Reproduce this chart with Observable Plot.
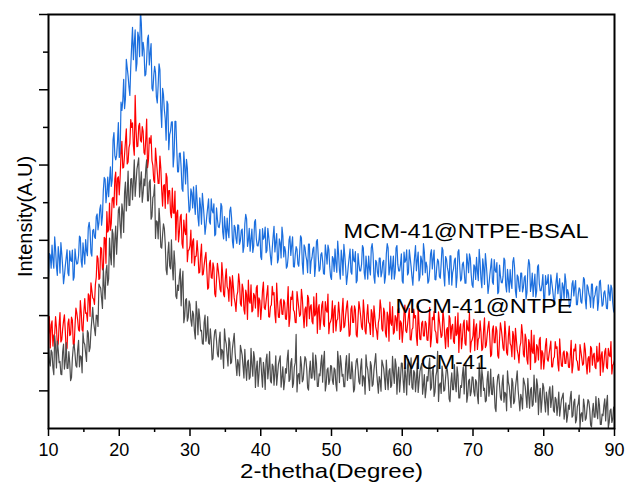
<!DOCTYPE html>
<html>
<head>
<meta charset="utf-8">
<script src="https://cdn.jsdelivr.net/npm/d3@7"></script>
<script src="https://cdn.jsdelivr.net/npm/@observablehq/plot@0.6"></script>
<style>
  html, body { margin: 0; padding: 0; background: #fff; }
  #chart svg { display: block; }
</style>
</head>
<body>
<div id="chart"></div>
<script>
// Sampling: "on-grid" values at 10, 10.25, ... 90 and "mid" values at 10.125, 10.375, ... 89.875 (degrees 2θ)
const gridStart = 10, gridStep = 0.25;

// Intensities (a.u. ×100)
const mcm41 = [
218,166,202,143, 218,232,175,144,
203,158,228,160, 175,135,216,198,
163,234,193,148, 229,200,260,204,
258,322,265,301, 271,378,346,425,
344,434,398,460, 529,429,538,515,
589,506,577,626, 578,684,593,664,
657,617,689,719, 651,601,663,690,
605,654,556,613, 648,552,504,548,
479,544,491,409, 495,424,431,472,
352,381,403,326, 418,298,345,295,
330,272,303,238, 307,318,259,226,
282,232,297,224, 234,186,259,233,
190,256,210,160, 236,194,241,172,
213,253,171,183, 140,208,165,210,
128,182,136,168, 204,109,179,145,
187,110,154,182, 132,204,121,165,
148,115,171,193, 136,103,159,186,
125,175,109,164, 250,141,119,169,
130,191,158,102, 179,134,151,195,
112,145,173,123, 205,117,161,128,
166,117,156,100, 178,194,139,111,
172,128,199,132, 148,104,180,158,
118,185,140,91, 167,128,178,112,
155,199,122,138, 99,171,132,182,
103,159,114,148, 185,91,163,130,
173,96,139,167, 116,188,104,148,
130,96,152,173, 116,82,138,164,
102,152,85,140, 205,116,93,142,
102,162,128,71, 148,103,120,164,
81,114,142,92, 175,87,131,98,
136,86,123,66, 142,157,101,71,
131,86,158,90, 106,45,138,115,
75,142,96,47, 123,83,133,66,
109,153,75,91, 52,123,84,133,
54,109,63,96, 132,37,107,73,
109,44,78,99, 56,113,43,77,
61,33,77,94, 46,17,62,82,
30,70,15,58, 89,38,19,60,
27,77,50,4, 67,30,44,80,
11,38,61,20, 88,16,52,25,
57
];
const mcm41Mid = [
178,208,161,247, 161,209,178,143,
224,179,160,204, 127,187,224,167,
210,164,190,255, 223,178,254,214,
290,283,247,300, 384,373,319,378,
417,381,506,435, 517,501,463,580,
540,597,521,655, 620,593,663,608,
714,653,704,615, 682,625,645,714,
605,661,564,620, 505,549,585,482,
515,531,422,466, 432,501,395,436,
345,367,424,389, 281,342,285,339,
288,312,259,338, 249,294,261,224,
301,250,227,265, 182,234,263,198,
235,184,205,265, 224,166,229,176,
233,201,141,169, 221,195,134,163,
177,131,213,139, 187,158,112,188,
143,176,104,198, 160,126,171,115,
193,143,182,110, 164,125,147,208,
131,186,120,175, 97,146,191,124,
163,185,108,152, 134,201,129,173,
112,140,195,179, 100,156,117,167,
128,161,117,205, 122,172,144,111,
194,150,133,177, 97,153,186,125,
163,113,135,196, 156,101,167,117,
177,150,94,127, 182,160,104,137,
153,109,192,120, 169,141,97,174,
128,161,89,183, 143,109,154,98,
174,124,163,91, 143,104,126,187,
108,163,97,152, 72,121,166,99,
134,156,79,123, 103,170,98,142,
81,109,164,148, 70,126,87,137,
97,130,86,174, 85,135,107,74,
152,108,91,136, 55,111,144,83,
120,70,92,153, 111,56,122,72,
130,103,47,80, 134,112,56,89,
103,59,142,70, 115,87,43,120,
72,97,36,111, 78,48,83,35,
97,55,85,25, 68,34,51,99,
34,78,23,67, 3,42,78,22,
54,72,9,45, 30,85,26,62,
11,34,79,66, 2,48,16,57
];

const mcm41Ntpe = [
252,214,286,247, 297,219,275,230,
264,302,208,280, 247,296,224,274,
307,262,340,262, 311,306,285,353,
387,347,330,402, 451,399,478,420,
505,576,528,527, 610,587,681,665,
621,729,692,728, 796,708,757,800,
751,885,749,803, 766,802,733,769,
693,772,778,699, 653,714,651,724,
634,645,585,667, 632,573,639,572,
501,580,522,569, 479,525,570,473,
486,440,504,457, 499,413,461,408,
434,468,370,438, 401,440,358,398,
421,370,441,356, 399,377,338,389,
406,347,311,364, 388,325,372,304,
356,394,333,310, 359,320,380,347,
290,367,321,337, 380,296,328,355,
304,386,296,339, 304,342,291,328,
271,349,365,310, 281,342,298,370,
302,317,272,347, 324,284,350,304,
253,329,289,338, 271,314,357,279,
294,255,327,287, 336,258,313,268,
301,339,245,317, 282,326,249,293,
320,270,342,259, 301,283,250,305,
326,270,237,293, 320,259,309,243,
298,336,274,251, 300,260,320,286,
229,306,260,276, 319,235,267,294,
243,325,237,280, 246,285,235,274,
217,295,311,256, 227,287,242,314,
246,262,217,293, 271,231,297,252,
202,278,238,288, 221,264,308,230,
246,207,278,237, 286,207,262,215,
248,285,191,262, 228,271,194,237,
264,214,285,202, 245,226,191,246,
266,208,174,228, 253,190,239,171,
224,261,199,175, 223,182,242,207,
158,221,184,197, 232,164,190,213,
171,238,166,201, 173,204,163,194,
148,211,224,178, 155,205,168,227,
172,186,150,213, 195,163,218,181,
141,204,172,213, 159,195,231,168,
181
];
const mcm41NtpeMid = [
297,275,219,252, 269,225,308,236,
286,258,214,291, 250,288,221,320,
288,259,309,258, 345,307,358,298,
367,344,382,459, 396,481,423,508,
439,522,599,545, 614,663,594,669,
668,763,694,762, 703,746,821,812,
726,794,750,811, 761,790,728,822,
712,758,712,660, 745,682,651,692,
591,648,678,597, 632,560,573,631,
573,496,562,491, 554,515,443,475,
527,497,433,458, 467,415,490,410,
454,422,374,447, 399,427,350,439,
398,363,407,350, 424,369,403,326,
377,334,353,411, 332,384,316,368,
290,338,382,314, 353,374,297,340,
323,389,316,359, 297,324,378,361,
281,336,295,344, 303,335,290,377,
293,343,315,282, 364,320,303,348,
268,323,354,292, 329,278,299,359,
319,263,328,277, 337,309,252,284,
339,316,259,291, 308,263,346,273,
323,294,250,326, 282,315,243,337,
298,263,308,251, 329,278,316,244,
298,259,281,342, 265,320,254,309,
232,280,324,256, 294,315,237,280,
262,328,255,298, 236,263,317,300,
221,276,236,285, 246,279,234,322,
239,289,261,228, 310,265,247,291,
213,268,300,238, 277,226,247,307,
268,212,277,226, 287,259,203,235,
290,267,210,242, 257,212,294,221,
270,241,196,273, 228,260,187,281,
242,207,252,195, 272,220,258,184,
237,197,217,276, 197,251,183,236,
157,204,248,179, 216,236,158,200,
185,239,179,215, 164,186,231,217,
153,198,165,206, 173,199,162,234,
166,206,182,155, 223,187,172,209,
145,191,218,168, 200,159,177,227,
195,150,204,163, 213,191,145,172
];

const mcm41NtpeBsal = [
404,460,487,426, 476,407,459,494,
430,406,454,413, 472,444,394,477,
437,459,508,429, 467,502,459,548,
467,526,509,563, 528,582,540,633,
663,626,616,695, 659,786,714,761,
720,867,871,850, 981,937,885,1016,
980,1059,970,1040, 1111,990,1006,941,
1036,966,1023,897, 962,882,913,953,
800,887,823,870, 741,790,815,727,
816,682,731,693, 630,697,715,622,
582,626,642,569, 607,538,589,625,
560,538,588,549, 610,573,512,586,
536,550,590,504, 533,559,507,588,
498,540,505,541, 489,526,468,543,
557,500,471,530, 484,555,486,502,
456,531,508,467, 532,485,435,510,
469,518,450,493, 535,456,471,431,
501,460,509,429, 483,437,469,506,
410,481,447,490, 412,455,482,431,
502,418,462,444, 410,465,487,430,
396,451,477,415, 464,397,451,489,
427,405,455,416, 476,443,387,465,
419,436,480,397, 430,458,408,491,
403,447,414,453, 403,442,386,464,
480,425,397,458, 414,486,419,436,
392,469,447,408, 475,430,381,458,
419,469,403,447, 491,414,430,392,
464,424,474,395, 450,404,437,474,
379,450,416,459, 381,425,453,403,
475,392,436,419, 386,442,464,408,
375,430,455,393, 442,374,428,465,
403,380,429,389, 449,415,358,434,
388,404,447,363, 395,422,372,454,
365,408,375,413, 363,401,344,422,
437,380,351,410, 365,435,366,382,
344,406,387,354, 408,370,329,391,
358,398,342,377, 411,347,359,326,
384,352,393,329, 374,337,365,396,
318,376,349,384, 320,355,378,336,
394,325,361,346, 318,363,381,334,
307
];
const mcm41NtpeBsalMid = [
465,426,448,509, 430,483,413,465,
385,432,475,406, 447,474,402,451,
439,511,444,493, 437,472,534,525,
458,529,505,570, 546,594,564,667,
600,668,658,643, 767,726,725,813,
730,845,928,876, 959,907,959,1066,
1023,950,1053,988, 1075,1026,937,977,
1045,998,904,937, 946,865,969,848,
904,847,766,862, 781,814,695,816,
745,682,732,637, 735,650,692,575,
637,586,597,646, 561,613,543,595,
516,565,610,543, 580,597,516,556,
534,598,522,563, 499,525,578,560,
480,534,492,540, 499,530,483,569,
484,532,503,468, 549,504,485,529,
449,503,535,472, 509,457,478,537,
496,440,504,453, 512,483,426,457,
511,487,430,461, 476,431,512,439,
488,459,414,490, 445,477,404,497,
458,423,467,411, 488,437,475,403,
457,417,438,498, 420,474,407,461,
383,432,477,410, 448,470,393,437,
419,486,414,458, 397,425,480,464,
386,442,403,453, 414,447,403,491,
408,458,430,397, 480,436,419,464,
386,442,475,414, 453,403,425,486,
447,392,458,408, 469,442,386,419,
475,452,396,428, 444,399,481,408,
457,428,383,459, 414,447,375,469,
431,397,442,386, 464,414,453,381,
435,396,417,476, 397,451,383,437,
359,407,451,383, 420,441,363,406,
387,453,380,423, 362,389,443,427,
348,403,364,413, 374,406,361,449,
364,413,383,349, 430,384,366,409,
338,383,409,358, 389,347,364,413,
380,334,387,344, 392,369,322,348,
393,375,329,356, 369,333,401,342,
382,358,322,384, 347,373,314,390,
358,329,366,319, 382,340,372,312
];

const xMajorTicks = [10, 20, 30, 40, 50, 60, 70, 80, 90];
const xMinorTicks = [15, 25, 35, 45, 55, 65, 75, 85];
const yMajorTicks = [100, 300, 500, 700, 900, 1100];
const yMinorTicks = [200, 400, 600, 800, 1000];

const seriesNames = ["MCM-41@NTPE-BSAL", "MCM-41@NTPE", "MCM-41"];
const seriesColors = ["#1c6fde", "#ff0000", "#4d4d4d"];
// label anchors in data units (2θ, intensity)
const labelX = [51.7, 59.05, 60.0];
const labelY = [525, 326, 177];
const labelWidths = [245, 177, 85];

const xTitle = "2-thetha(Degree)";
const yTitle = "Intensity(A.U)";

// merge on-grid and mid-grid samples into one ordered profile
function profile(onGrid, mid) {
  const out = [];
  onGrid.forEach((v, i) => {
    out.push({t: gridStart + i * gridStep, v});
    if (i < mid.length) out.push({t: gridStart + (i + 0.5) * gridStep, v: mid[i]});
  });
  return out;
}
const profiles = [
  profile(mcm41NtpeBsal, mcm41NtpeBsalMid),
  profile(mcm41Ntpe, mcm41NtpeMid),
  profile(mcm41, mcm41Mid)
];

const labels = seriesNames.map((name, i) => ({name, x: labelX[i], y: labelY[i]}));

const chart = Plot.plot({
  width: 627,
  height: 482,
  marginLeft: 48,
  marginRight: 13,
  marginTop: 14,
  marginBottom: 54,
  x: {domain: [10, 90]},
  y: {domain: [0, 1100]},
  style: {fontFamily: "Arial, 'Liberation Sans', sans-serif", color: "black", background: "white"},
  marks: [
    ...profiles.map((p, i) => Plot.line(p, {x: "t", y: "v", stroke: seriesColors[i], strokeWidth: 1.2, clip: true})),
    Plot.frame({stroke: "black", strokeWidth: 2}),
    Plot.axisX({ticks: xMajorTicks, tickSize: 8, tickPadding: 7, fontSize: 18, strokeWidth: 1.5, label: null}),
    Plot.axisX({ticks: xMinorTicks, tickSize: 4, strokeWidth: 1.5, text: null, label: null}),
    Plot.axisY({ticks: yMajorTicks, tickSize: 9, strokeWidth: 1.5, text: null, label: null}),
    Plot.axisY({ticks: yMinorTicks, tickSize: 5, strokeWidth: 1.5, text: null, label: null}),
    Plot.text(labels, {x: "x", y: "y", text: "name", textAnchor: "start", fontSize: 21, fill: "black"}),
    Plot.text([xTitle], {frameAnchor: "bottom", lineAnchor: "top", dy: 35, fontSize: 21, fill: "black"}),
    Plot.text([yTitle], {frameAnchor: "left", textAnchor: "middle", lineAnchor: "middle", rotate: -90, dx: -23, dy: -5, fontSize: 20, fill: "black"})
  ]
});

// stretch horizontal texts to the widths seen in the picture
const widthsByText = new Map(seriesNames.map((n, i) => [n, labelWidths[i]]));
widthsByText.set(xTitle, 183);
d3.select(chart).selectAll("text").each(function() {
  const w = widthsByText.get(this.textContent);
  if (w) {
    this.setAttribute("textLength", w);
    this.setAttribute("lengthAdjust", "spacingAndGlyphs");
  }
});

document.getElementById("chart").appendChild(chart);
</script>
</body>
</html>
